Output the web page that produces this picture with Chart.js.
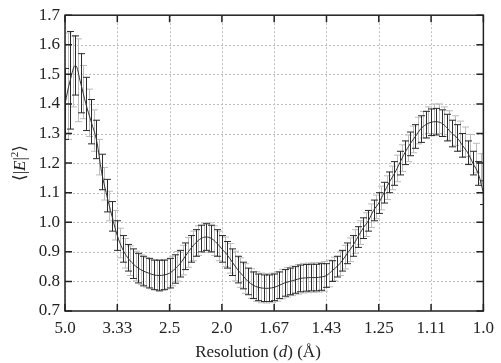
<!DOCTYPE html>
<html><head><meta charset="utf-8">
<script src="https://cdn.jsdelivr.net/npm/chart.js@4.4.1/dist/chart.umd.min.js"></script>
<style>html,body{margin:0;padding:0;background:#fff}#wrap{width:501px;height:363px}</style>
</head><body><div id="wrap"><canvas id="c" width="501" height="363"></canvas></div>
<script>
// x axis is 1/d (1/Å); labels show d
const xTickValues = [0.2,0.3,0.4,0.5,0.6,0.7,0.8,0.9,1.0];
const xTickLabels = ['5.0','3.33','2.5','2.0','1.67','1.43','1.25','1.11','1.0'];

const blackX = [0.20,0.21,0.22,0.23,0.24,0.25,0.26,0.27,0.28,0.29,
 0.30,0.31,0.32,0.33,0.34,0.35,0.36,0.37,0.38,0.39,
 0.40,0.41,0.42,0.43,0.44,0.45,0.46,0.47,0.48,0.49,
 0.50,0.51,0.52,0.53,0.54,0.55,0.56,0.57,0.58,0.59,
 0.60,0.61,0.62,0.63,0.64,0.65,0.66,0.67,0.68,0.69,
 0.70,0.71,0.72,0.73,0.74,0.75,0.76,0.77,0.78,0.79,
 0.80,0.81,0.82,0.83,0.84,0.85,0.86,0.87,0.88,0.89,
 0.90,0.91,0.92,0.93,0.94,0.95,0.96,0.97,0.98,0.99,1.00];
const blackY = [1.40,1.48,1.53,1.47,1.40,1.34,1.28,1.17,1.09,1.02,
 0.955,0.91,0.88,0.86,0.845,0.835,0.828,0.822,0.82,0.822,
 0.828,0.842,0.86,0.885,0.91,0.93,0.945,0.95,0.945,0.93,
 0.91,0.89,0.865,0.84,0.82,0.80,0.787,0.78,0.777,0.777,
 0.78,0.787,0.795,0.80,0.805,0.81,0.812,0.813,0.813,0.815,
 0.82,0.835,0.85,0.87,0.895,0.92,0.95,0.98,1.005,1.04,
 1.065,1.10,1.135,1.165,1.20,1.235,1.265,1.29,1.315,1.33,
 1.338,1.34,1.335,1.32,1.30,1.285,1.26,1.235,1.20,1.165,1.10];
const blackErr = [0.12,0.165,0.10,0.10,0.09,0.075,0.065,0.06,0.055,0.05,
 0.05,0.045,0.045,0.05,0.05,0.05,0.05,0.05,0.052,0.05,
 0.05,0.048,0.045,0.045,0.045,0.045,0.045,0.045,0.045,0.045,
 0.045,0.045,0.045,0.045,0.045,0.045,0.045,0.045,0.045,0.045,
 0.045,0.045,0.045,0.045,0.045,0.045,0.045,0.045,0.045,0.045,
 0.04,0.035,0.035,0.035,0.035,0.035,0.035,0.035,0.035,0.035,
 0.035,0.035,0.035,0.04,0.04,0.04,0.04,0.04,0.045,0.045,
 0.045,0.045,0.045,0.045,0.045,0.045,0.04,0.04,0.04,0.04,0.04];

const greyX = [0.205,0.215,0.225,0.235,0.245,0.255,0.265,0.275,0.285,0.295,
 0.305,0.315,0.325,0.335,0.345,0.355,0.365,0.375,0.385,0.395,
 0.405,0.415,0.425,0.435,0.445,0.455,0.465,0.475,0.485,0.495,
 0.505,0.515,0.525,0.535,0.545,0.555,0.565,0.575,0.585,0.595,
 0.605,0.615,0.625,0.635,0.645,0.655,0.665,0.675,0.685,0.695,
 0.705,0.715,0.725,0.735,0.745,0.755,0.765,0.775,0.785,0.795,
 0.805,0.815,0.825,0.835,0.845,0.855,0.865,0.875,0.885,0.895,
 0.905,0.915,0.925,0.935,0.945,0.955,0.965,0.975,0.985,0.995];
const greyY = [1.46,1.51,1.48,1.44,1.37,1.31,1.22,1.13,1.055,0.99,
 0.93,0.895,0.87,0.852,0.84,0.831,0.825,0.821,0.821,0.825,
 0.835,0.851,0.872,0.898,0.92,0.938,0.948,0.948,0.938,0.92,
 0.90,0.878,0.852,0.83,0.81,0.793,0.783,0.778,0.777,0.778,
 0.783,0.791,0.797,0.802,0.807,0.811,0.812,0.813,0.814,0.817,
 0.827,0.842,0.86,0.882,0.907,0.935,0.965,0.992,1.022,1.052,
 1.082,1.117,1.15,1.182,1.217,1.25,1.28,1.31,1.33,1.345,
 1.35,1.35,1.34,1.327,1.31,1.292,1.272,1.247,1.217,1.182];
const greyErr = [0.18,0.12,0.14,0.09,0.08,0.07,0.06,0.055,0.05,0.05,
 0.05,0.05,0.05,0.05,0.05,0.05,0.05,0.05,0.05,0.05,
 0.05,0.05,0.05,0.05,0.05,0.05,0.05,0.05,0.05,0.05,
 0.05,0.05,0.05,0.05,0.05,0.05,0.05,0.05,0.05,0.05,
 0.05,0.05,0.05,0.05,0.05,0.05,0.05,0.05,0.05,0.05,
 0.045,0.04,0.04,0.04,0.04,0.04,0.04,0.04,0.04,0.04,
 0.04,0.04,0.04,0.045,0.045,0.045,0.045,0.045,0.045,0.045,
 0.05,0.05,0.05,0.05,0.05,0.05,0.05,0.05,0.05,0.05];

const SERIF = '"Liberation Serif","DejaVu Serif",serif';

function drawBars(ctx, xs, ys, es, sx, sy, color, lw, cap){
  ctx.save();
  ctx.strokeStyle = color; ctx.lineWidth = lw;
  for (let i = 0; i < xs.length; i++) {
    const px = Math.round(sx.getPixelForValue(xs[i])) + 0.5;
    const t = sy.getPixelForValue(ys[i] + es[i]);
    const b = sy.getPixelForValue(ys[i] - es[i]);
    ctx.beginPath();
    ctx.moveTo(px, t); ctx.lineTo(px, b);
    ctx.moveTo(px - cap, t); ctx.lineTo(px + cap, t);
    ctx.moveTo(px - cap, b); ctx.lineTo(px + cap, b);
    ctx.stroke();
  }
  ctx.restore();
}

const decor = {
  id: 'decor',
  beforeDatasetsDraw(chart) {
    const {ctx, chartArea: a, scales: {x, y}} = chart;
    ctx.save();
    ctx.beginPath(); ctx.rect(a.left, a.top, a.right - a.left, a.bottom - a.top); ctx.clip();
    ctx.strokeStyle = '#bdbdbd'; ctx.lineWidth = 1; ctx.setLineDash([2, 2]);
    xTickValues.forEach(v => { const p = Math.round(x.getPixelForValue(v)) + 0.5;
      ctx.beginPath(); ctx.moveTo(p, a.top); ctx.lineTo(p, a.bottom); ctx.stroke(); });
    y.ticks.forEach(t => { const p = Math.round(y.getPixelForValue(t.value)) + 0.5;
      ctx.beginPath(); ctx.moveTo(a.left, p); ctx.lineTo(a.right, p); ctx.stroke(); });
    ctx.setLineDash([]);
    drawBars(ctx, greyX, greyY, greyErr, x, y, '#bcbcbc', 1, 3.5);
    drawBars(ctx, blackX, blackY, blackErr, x, y, '#2a2a2a', 1, 3.5);
    ctx.restore();
  },
  afterDatasetsDraw(chart) {
    const {ctx, chartArea: a, scales: {x, y}} = chart;
    ctx.save();
    ctx.strokeStyle = '#222'; ctx.lineWidth = 1.5;
    ctx.strokeRect(a.left, a.top, a.right - a.left, a.bottom - a.top);
    const L = 7;
    xTickValues.forEach(v => { const p = x.getPixelForValue(v);
      ctx.beginPath(); ctx.moveTo(p, a.bottom); ctx.lineTo(p, a.bottom - L);
      ctx.moveTo(p, a.top); ctx.lineTo(p, a.top + L); ctx.stroke(); });
    y.ticks.forEach(t => { const p = y.getPixelForValue(t.value);
      ctx.beginPath(); ctx.moveTo(a.left, p); ctx.lineTo(a.left + L, p);
      ctx.moveTo(a.right, p); ctx.lineTo(a.right - L, p); ctx.stroke(); });
    // x title
    ctx.fillStyle = '#222'; ctx.textBaseline = 'middle';
    const parts = [['Resolution (', ''], ['d', 'italic '], [') (Å)', '']];
    const size = 17;
    let w = 0;
    parts.forEach(p => { ctx.font = p[1] + size + 'px ' + SERIF; w += ctx.measureText(p[0]).width; });
    let cx = 258 - w / 2;
    parts.forEach(p => { ctx.font = p[1] + size + 'px ' + SERIF; ctx.textAlign = 'left';
      ctx.fillText(p[0], cx, 353); cx += ctx.measureText(p[0]).width; });
    // y title
    ctx.translate(21, 163); ctx.rotate(-Math.PI / 2);
    const yp = [['⟨|', '', 0, size], ['E', 'italic ', 0, size], ['|', '', 0, size], ['2', '', -6, 11], ['⟩', '', 0, size]];
    w = 0;
    yp.forEach(p => { ctx.font = p[1] + p[3] + 'px ' + SERIF; w += ctx.measureText(p[0]).width; });
    cx = -w / 2;
    yp.forEach(p => { ctx.font = p[1] + p[3] + 'px ' + SERIF; ctx.textAlign = 'left';
      ctx.fillText(p[0], cx, p[2]); cx += ctx.measureText(p[0]).width; });
    ctx.restore();
  }
};

new Chart(document.getElementById('c'), {
  type: 'line',
  data: { datasets: [{
    data: blackX.map((v, i) => ({x: v, y: blackY[i]})),
    borderColor: '#333', borderWidth: 1, pointRadius: 0, tension: 0.4, fill: false
  }]},
  options: {
    responsive: false, animation: false, devicePixelRatio: 1,
    layout: { padding: { left: 0, top: 15, right: 14, bottom: 0 } },
    plugins: { legend: { display: false }, tooltip: { enabled: false } },
    scales: {
      x: { type: 'linear', min: 0.2, max: 1.0,
        afterBuildTicks: s => { s.ticks = xTickValues.map(v => ({value: v})); },
        afterFit: s => { s.height = 52; },
        grid: { display: false, drawTicks: false }, border: { display: false },
        ticks: { padding: 7, color: '#222', font: { family: SERIF, size: 17 },
          maxRotation: 0, autoSkip: false,
          callback: (v, i) => xTickLabels[i] } },
      y: { min: 0.7, max: 1.7,
        afterFit: s => { s.width = 65; },
        grid: { display: false, drawTicks: false }, border: { display: false },
        ticks: { stepSize: 0.1, padding: 5, color: '#222', font: { family: SERIF, size: 17 },
          callback: v => Number(v).toFixed(1) } }
    }
  },
  plugins: [decor]
});
</script></body></html>
